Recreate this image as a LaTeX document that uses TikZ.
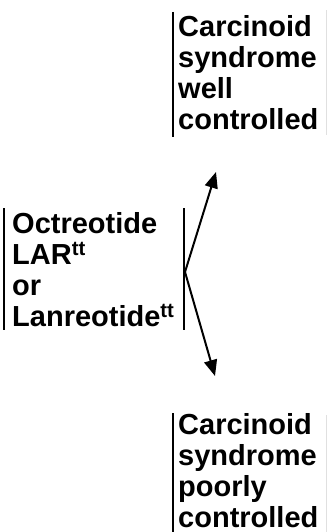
\documentclass[tikz,border=0pt]{standalone}
\usepackage{fontspec}
\setmainfont{Liberation Sans}
\usetikzlibrary{arrows.meta}
\begin{document}
\begin{tikzpicture}[x=1pt,y=1pt,
  lbl/.style={anchor=north west,inner sep=0pt,align=left,
    font=\fontsize{29}{31}\selectfont\bfseries},
  bar/.style={line width=2pt,black},
  faint/.style={line width=1pt,black!12},
  arr/.style={line width=2pt,-{Triangle[length=16pt,width=13pt]}}]
\useasboundingbox (0,0) rectangle (327,-532);
% top box
\draw[bar] (173,-12) -- (173,-137);
\draw[faint] (326,-10) -- (326,-135);
\node[lbl] (well) at (178,-15) {Carcinoid\\syndrome\\well\\controlled};
% left box
\draw[bar] (4,-208) -- (4,-330);
\draw[bar] (184,-208) -- (184,-330);
\node[lbl] (drug) at (12,-212) {Octreotide\\LAR\textsuperscript{tt}\\or\\Lanreotide\textsuperscript{tt}};
% bottom box
\draw[bar] (173,-413) -- (173,-532);
\draw[faint] (326,-415) -- (326,-532);
\node[lbl] (poor) at (178,-413) {Carcinoid\\syndrome\\poorly\\controlled};
% arrows
\coordinate (src) at (185,-272);
\coordinate (t1) at (216,-172);
\coordinate (t2) at (215,-376);
\draw[arr] (src) -- (t1);
\draw[arr] (src) -- (t2);
\end{tikzpicture}
\end{document}
